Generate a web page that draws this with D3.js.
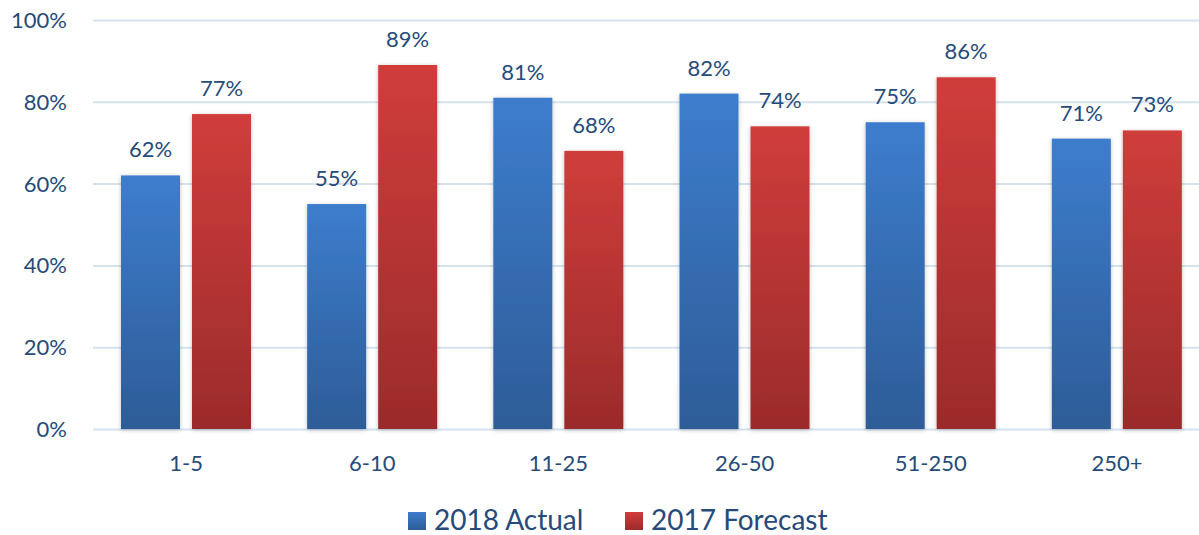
<!DOCTYPE html>
<html><head><meta charset="utf-8">
<script src="https://cdn.jsdelivr.net/npm/d3@7"></script>
<style>body{margin:0;background:#fff}svg{display:block}text{font-family:Lato,"Open Sans",sans-serif}</style>
</head><body><div id="chart"></div>
<script>
const categories = ["1-5","6-10","11-25","26-50","51-250","250+"];
const seriesNames = ["2018 Actual","2017 Forecast"];
const actual2018 = [62,55,81,82,75,71];
const forecast2017 = [77,89,68,74,86,73];
const yTicks = [0,20,40,60,80,100];

const W=1199,H=535;
const svg=d3.select("#chart").append("svg").attr("width",W).attr("height",H);
const defs=svg.append("defs");
const grads=[["gBlue","#3d7dcd","#2d5c97"],["gRed","#d03d3b","#9b2b2b"]];
grads.forEach(([id,a,b])=>{
  const g=defs.append("linearGradient").attr("id",id).attr("x1",0).attr("y1",0).attr("x2",0).attr("y2",1);
  g.append("stop").attr("offset","0%").attr("stop-color",a);
  g.append("stop").attr("offset","100%").attr("stop-color",b);
});
const f=defs.append("filter").attr("id","sh").attr("x","-20%").attr("y","-5%").attr("width","140%").attr("height","115%");
f.append("feDropShadow").attr("dx",0).attr("dy",1).attr("stdDeviation",2).attr("flood-color","#000").attr("flood-opacity",0.25);

const x0=d3.scaleBand().domain(categories).range([93,1210]).paddingInner(0).paddingOuter(0);
const y=d3.scaleLinear().domain([0,100]).range([429,20]);

// grid
const yAxis=d3.axisLeft(y).tickValues(yTicks).tickFormat(d=>d+"%").tickSize(-(1210-93)).tickPadding(26);
const ga=svg.append("g").attr("transform","translate(93,0)").call(yAxis);
ga.select(".domain").remove();
ga.selectAll(".tick line").attr("stroke","#d6e2f0").attr("stroke-width",2);
ga.selectAll(".tick text").attr("fill","#264a7a").attr("font-size",22).attr("dy","0.34em");

const data=categories.map((c,i)=>({c,vals:[actual2018[i],forecast2017[i]]}));
const groups=svg.append("g").selectAll("g").data(data).join("g").attr("transform",d=>`translate(${x0(d.c)},0)`);
const bw=59;
groups.selectAll("rect").data(d=>d.vals.map((v,j)=>({v,j}))).join("rect")
  .attr("x",d=>28+d.j*(bw+12)).attr("width",bw)
  .attr("y",d=>y(d.v)).attr("height",d=>y(0)-y(d.v))
  .attr("fill",d=>d.j===0?"url(#gBlue)":"url(#gRed)").attr("filter","url(#sh)");
groups.selectAll("text.lbl").data(d=>d.vals.map((v,j)=>({v,j}))).join("text").attr("class","lbl")
  .attr("x",d=>28+d.j*(bw+12)+bw/2).attr("y",d=>y(d.v)-18)
  .attr("text-anchor","middle").attr("font-size",22).attr("fill","#264a7a").text(d=>d.v+"%");

// x axis
const xAxis=d3.axisBottom(x0).tickSize(0).tickPadding(26);
const gx=svg.append("g").attr("transform","translate(0,429)").call(xAxis);
gx.select(".domain").remove();
gx.selectAll(".tick text").attr("fill","#264a7a").attr("font-size",22);

// legend
const leg=svg.append("g");
const legX=[408,625];
seriesNames.forEach((n,i)=>{
  leg.append("rect").attr("x",legX[i]).attr("y",512).attr("width",18).attr("height",18).attr("fill",`url(#${grads[i][0]})`);
  leg.append("text").attr("x",legX[i]+26).attr("y",530).attr("font-size",28).attr("fill","#264a7a").text(n);
});
</script></body></html>
